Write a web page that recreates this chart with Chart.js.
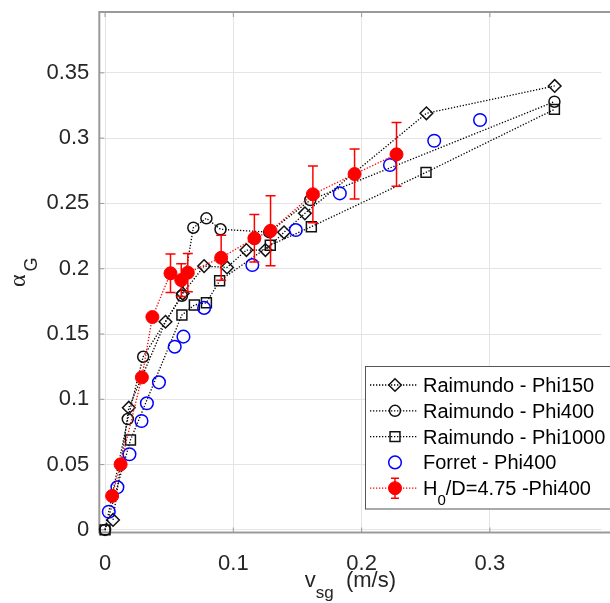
<!DOCTYPE html>
<html lang="en">

<head>
    <meta charset="UTF-8">
    <title>Gas holdup vs superficial gas velocity</title>
    <script src="https://cdn.jsdelivr.net/npm/chart.js"></script>
    <style>
        body { margin: 0; background: #fff; }
        canvas { display: block; }
    </style>
</head>

<body>
    <canvas id="holdupChart" width="610" height="603"></canvas>
    <script>
        // superficial gas velocity v_sg (m/s) and gas holdup alpha_G
        const phi150Vsg = [0.0062, 0.0185, 0.0471, 0.0605, 0.0772, 0.0951, 0.1102, 0.125, 0.1395, 0.1558, 0.2505, 0.3505];
        const phi150Alpha = [0.0076, 0.0936, 0.1594, 0.181, 0.202, 0.201, 0.2143, 0.2143, 0.2279, 0.2424, 0.319, 0.340];

        const phi400Vsg = [0, 0.0177, 0.0297, 0.0599, 0.0688, 0.079, 0.090, 0.128, 0.160, 0.3503];
        const phi400Alpha = [0, 0.0849, 0.1326, 0.1793, 0.2314, 0.2386, 0.2302, 0.228, 0.2526, 0.3279];

        const phi1000Vsg = [0, 0.0198, 0.0599, 0.0696, 0.079, 0.0893, 0.1288, 0.1608, 0.2502, 0.3503];
        const phi1000Alpha = [0, 0.0688, 0.1646, 0.1722, 0.174, 0.1908, 0.218, 0.2322, 0.2738, 0.322];

        const forretVsg = [0.0029, 0.0096, 0.019, 0.0284, 0.0326, 0.042, 0.0543, 0.0611, 0.0772, 0.1148, 0.1487, 0.183, 0.2221, 0.2566, 0.2923];
        const forretAlpha = [0.0139, 0.0326, 0.0579, 0.0834, 0.097, 0.113, 0.1403, 0.148, 0.170, 0.2028, 0.2296, 0.2577, 0.2794, 0.298, 0.3139];

        const h0Vsg = [0.0055, 0.0121, 0.0287, 0.0369, 0.051, 0.0594, 0.0645, 0.0905, 0.1164, 0.129, 0.162, 0.1945, 0.2272];
        const h0Alpha = [0.026, 0.0502, 0.1168, 0.163, 0.1965, 0.1913, 0.197, 0.2084, 0.2233, 0.229, 0.257, 0.2725, 0.2876];
        const h0Err = [0, 0, 0, 0, 0.0147, 0.0125, 0.0147, 0.0172, 0.0182, 0.0268, 0.0217, 0.0192, 0.0244];

        const xTickValues = [0, 0.1, 0.2, 0.3];
        const yTickValues = [0, 0.05, 0.1, 0.15, 0.2, 0.25, 0.3, 0.35];

        const SANS = '"Liberation Sans", Arial, sans-serif';
        const AXIS_COLOR = '#9a9a9a';
        const TEXT_COLOR = '#262626';

        function points(xs, ys) {
            return xs.map((x, i) => ({ x: x, y: ys[i] }));
        }

        // draws text where "_x" or "_{xy}" is a subscript
        function drawRich(ctx, text, x, y, size, align, color) {
            const parts = [];
            let i = 0;
            while (i < text.length) {
                if (text[i] === '_') {
                    let sub;
                    if (text[i + 1] === '{') {
                        const end = text.indexOf('}', i);
                        sub = text.slice(i + 2, end);
                        i = end + 1;
                    } else {
                        sub = text[i + 1];
                        i += 2;
                    }
                    parts.push({ t: sub, sub: true });
                } else {
                    let j = i;
                    while (j < text.length && text[j] !== '_') j++;
                    parts.push({ t: text.slice(i, j), sub: false });
                    i = j;
                }
            }
            const subSize = Math.round(size * 0.75);
            let width = 0;
            parts.forEach(p => {
                ctx.font = (p.sub ? subSize : size) + 'px ' + SANS;
                p.w = ctx.measureText(p.t).width;
                width += p.w;
            });
            let cx = align === 'center' ? x - width / 2 : x;
            ctx.fillStyle = color;
            ctx.textAlign = 'left';
            ctx.textBaseline = 'alphabetic';
            parts.forEach(p => {
                ctx.font = (p.sub ? subSize : size) + 'px ' + SANS;
                ctx.fillText(p.t, cx, y + (p.sub ? size * 0.5 : 0));
                cx += p.w;
            });
        }

        // box round the axes plus inward tick marks, like the matlab figure
        const axesFrame = {
            id: 'axesFrame',
            beforeDatasetsDraw(chart) {
                const { ctx, chartArea: a, scales } = chart;
                ctx.save();
                ctx.strokeStyle = AXIS_COLOR;
                ctx.lineWidth = 1;
                ctx.beginPath();
                xTickValues.forEach(v => {
                    const px = scales.x.getPixelForValue(v);
                    ctx.moveTo(px, a.bottom); ctx.lineTo(px, a.bottom - 5);
                    ctx.moveTo(px, a.top); ctx.lineTo(px, a.top + 5);
                });
                yTickValues.forEach(v => {
                    const py = scales.y.getPixelForValue(v);
                    ctx.moveTo(a.left, py); ctx.lineTo(a.left + 5, py);
                });
                ctx.stroke();
                ctx.lineWidth = 2;
                ctx.beginPath();
                ctx.moveTo(chart.width, a.top);
                ctx.lineTo(a.left, a.top);
                ctx.lineTo(a.left, a.bottom);
                ctx.lineTo(chart.width, a.bottom);
                ctx.stroke();
                ctx.restore();
            }
        };

        const errorBars = {
            id: 'errorBars',
            beforeDatasetDraw(chart, args) {
                const ds = chart.data.datasets[args.index];
                if (!ds.errors) return;
                const { ctx, scales: { x, y } } = chart;
                ctx.save();
                ctx.strokeStyle = ds.borderColor;
                ctx.lineWidth = 1.5;
                ctx.beginPath();
                ds.data.forEach((p, i) => {
                    const e = ds.errors[i];
                    if (!e) return;
                    const px = x.getPixelForValue(p.x);
                    const top = y.getPixelForValue(p.y + e);
                    const bot = y.getPixelForValue(p.y - e);
                    ctx.moveTo(px, top); ctx.lineTo(px, bot);
                    ctx.moveTo(px - 5, top); ctx.lineTo(px + 5, top);
                    ctx.moveTo(px - 5, bot); ctx.lineTo(px + 5, bot);
                });
                ctx.stroke();
                ctx.restore();
            }
        };

        const titlesAndLegend = {
            id: 'titlesAndLegend',
            afterDraw(chart) {
                const { ctx, chartArea: a } = chart;
                ctx.save();

                // x axis title
                drawRich(ctx, 'v_{sg}  (m/s)', (a.left + a.right) / 2, 587, 22, 'center', TEXT_COLOR);

                // y axis title: alpha with subscript G, rotated
                ctx.font = '24px "Liberation Serif", serif';
                const aw = ctx.measureText('\u03B1').width;
                ctx.font = '18px ' + SANS;
                const gw = ctx.measureText('G').width;
                const total = aw + 3 + gw;
                ctx.translate(25, (a.top + a.bottom) / 2 + total / 2);
                ctx.rotate(-Math.PI / 2);
                ctx.fillStyle = TEXT_COLOR;
                ctx.textAlign = 'left';
                ctx.textBaseline = 'alphabetic';
                ctx.font = '24px "Liberation Serif", serif';
                ctx.fillText('\u03B1', 0, 0);
                ctx.font = '18px ' + SANS;
                ctx.fillText('G', aw + 3, 12);
                ctx.setTransform(1, 0, 0, 1, 0, 0);

                // legend box inside the axes
                const left = 365.5, top = 366.5, bottom = 509, firstRow = 385, rowH = 25.8;
                ctx.fillStyle = '#fff';
                ctx.fillRect(left, top, chart.width - left + 5, bottom - top);
                ctx.strokeStyle = '#555';
                ctx.lineWidth = 1;
                ctx.strokeRect(left, top, chart.width - left + 5, bottom - top);
                chart.data.datasets.forEach((ds, i) => {
                    const y = firstRow + i * rowH;
                    const mx = 395;
                    if (ds.showLine) {
                        ctx.strokeStyle = ds.borderColor;
                        ctx.lineWidth = ds.borderWidth;
                        ctx.setLineDash(ds.borderDash);
                        ctx.beginPath();
                        ctx.moveTo(370, y); ctx.lineTo(418, y);
                        ctx.stroke();
                        ctx.setLineDash([]);
                    }
                    if (ds.errors) {
                        ctx.strokeStyle = ds.borderColor;
                        ctx.lineWidth = 1.5;
                        ctx.beginPath();
                        ctx.moveTo(mx, y - 10); ctx.lineTo(mx, y + 10);
                        ctx.moveTo(mx - 4, y - 10); ctx.lineTo(mx + 4, y - 10);
                        ctx.moveTo(mx - 4, y + 10); ctx.lineTo(mx + 4, y + 10);
                        ctx.stroke();
                    }
                    ctx.strokeStyle = ds.pointBorderColor;
                    ctx.fillStyle = ds.pointBackgroundColor;
                    ctx.lineWidth = ds.pointBorderWidth;
                    Chart.helpers.drawPoint(ctx, {
                        pointStyle: ds.pointStyle,
                        radius: ds.pointRadius,
                        rotation: 0,
                        borderWidth: ds.pointBorderWidth
                    }, mx, y);
                    drawRich(ctx, ds.label, 423, y + 7, 20, 'left', '#000');
                });
                ctx.restore();
            }
        };

        function blackSeries(label, xs, ys, style, radius, order) {
            return {
                label: label,
                data: points(xs, ys),
                showLine: true,
                borderColor: '#000',
                borderWidth: 1.3,
                borderDash: [1.3, 1.7],
                pointStyle: style,
                pointRadius: radius,
                pointBorderColor: '#111',
                pointBackgroundColor: 'rgba(0,0,0,0)',
                pointBorderWidth: 1.5,
                clip: false,
                order: order
            };
        }

        const ctx = document.getElementById('holdupChart').getContext('2d');
        new Chart(ctx, {
            type: 'scatter',
            data: {
                datasets: [
                    blackSeries('Raimundo - Phi150', phi150Vsg, phi150Alpha, 'rectRot', 6.3, 4),
                    blackSeries('Raimundo - Phi400', phi400Vsg, phi400Alpha, 'circle', 5.5, 3),
                    blackSeries('Raimundo - Phi1000', phi1000Vsg, phi1000Alpha, 'rect', 7, 2),
                    {
                        label: 'Forret - Phi400',
                        data: points(forretVsg, forretAlpha),
                        showLine: false,
                        borderColor: '#0000ff',
                        pointStyle: 'circle',
                        pointRadius: 6.3,
                        pointBorderColor: '#0000ff',
                        pointBackgroundColor: 'rgba(0,0,0,0)',
                        pointBorderWidth: 1.5,
                        clip: false,
                        order: 1
                    },
                    {
                        label: 'H_0/D=4.75 -Phi400',
                        data: points(h0Vsg, h0Alpha),
                        errors: h0Err,
                        showLine: true,
                        borderColor: '#ff0000',
                        borderWidth: 1.3,
                        borderDash: [1.3, 1.7],
                        pointStyle: 'circle',
                        pointRadius: 6.5,
                        pointBorderColor: '#ff0000',
                        pointBackgroundColor: '#ff0000',
                        pointBorderWidth: 1,
                        clip: false,
                        order: 0
                    }
                ]
            },
            options: {
                responsive: false,
                animation: false,
                events: [],
                layout: { padding: { top: 12, left: 0, right: 0, bottom: 0 } },
                plugins: {
                    legend: { display: false },
                    tooltip: { enabled: false }
                },
                scales: {
                    x: {
                        type: 'linear',
                        min: -0.0045,
                        max: 0.387,
                        afterBuildTicks: s => { s.ticks = xTickValues.map(v => ({ value: v })); },
                        afterFit: s => { s.height = 70.5; s.paddingLeft = 0; s.paddingRight = 0; },
                        ticks: {
                            padding: 18,
                            maxRotation: 0,
                            autoSkip: false,
                            color: TEXT_COLOR,
                            font: { family: 'Liberation Sans', size: 22 },
                            callback: v => String(+v.toFixed(2))
                        },
                        grid: { color: '#e4e4e4', lineWidth: 1, drawTicks: false },
                        border: { display: false }
                    },
                    y: {
                        type: 'linear',
                        min: -0.002,
                        max: 0.3966,
                        afterBuildTicks: s => { s.ticks = yTickValues.map(v => ({ value: v })); },
                        afterFit: s => { s.width = 99.3; s.paddingTop = 0; s.paddingBottom = 0; },
                        ticks: {
                            padding: 10,
                            autoSkip: false,
                            color: TEXT_COLOR,
                            font: { family: 'Liberation Sans', size: 22 },
                            callback: v => String(+v.toFixed(2))
                        },
                        grid: { color: '#e4e4e4', lineWidth: 1, drawTicks: false },
                        border: { display: false }
                    }
                }
            },
            plugins: [axesFrame, errorBars, titlesAndLegend]
        });
    </script>
</body>

</html>
